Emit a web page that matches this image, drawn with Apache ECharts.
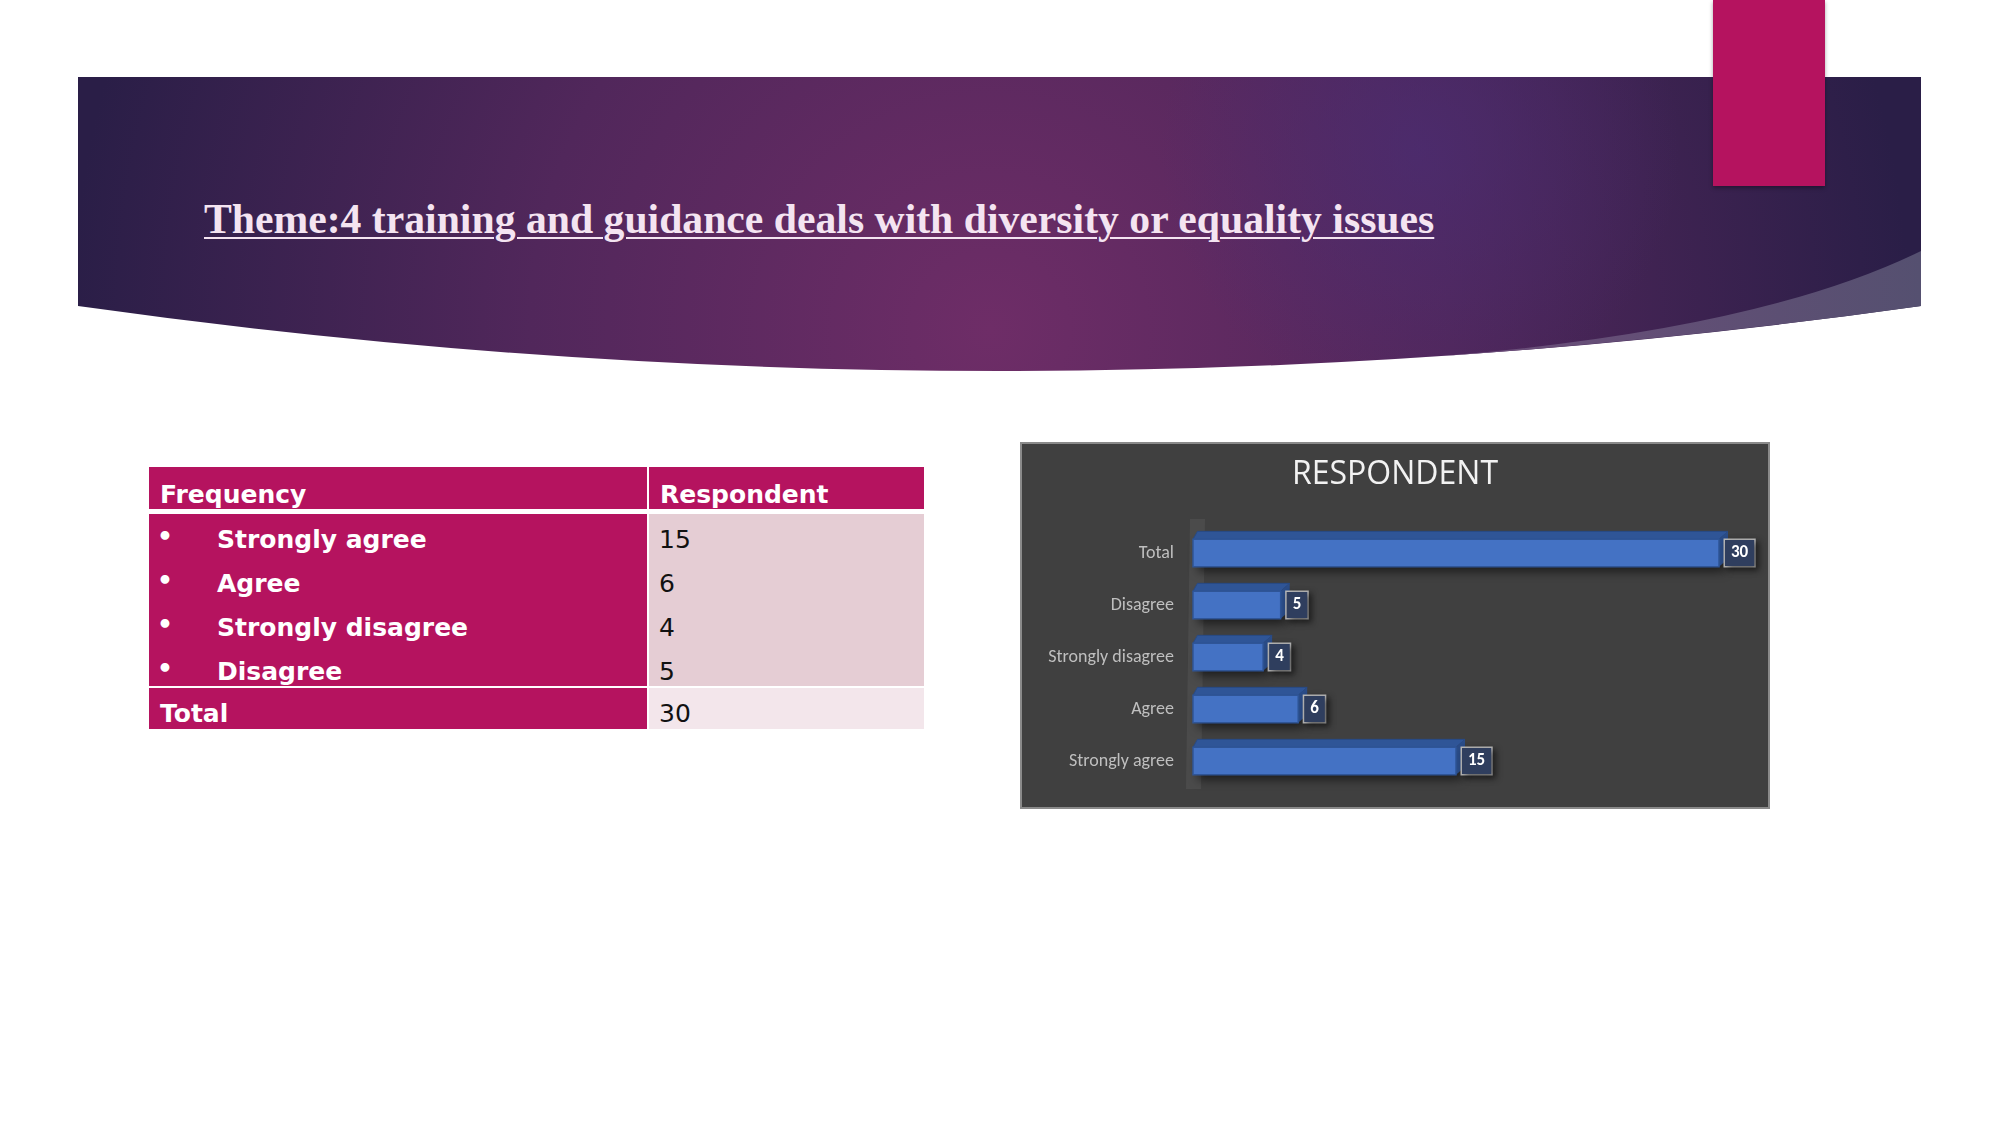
<!DOCTYPE html>
<html>
<head>
<meta charset="utf-8">
<title>Theme 4 - Respondent</title>
<script src="https://cdn.jsdelivr.net/npm/echarts@6/dist/echarts.min.js"></script>
<style>
  html, body { margin: 0; padding: 0; background: #fff; }
  .slide_ { position: relative; width: 2001px; height: 1125px; overflow: hidden; background: #fff; }
  .banner_ { position: absolute; left: 0; top: 0; }
  .pink_ { position: absolute; left: 1713px; top: 0; width: 112px; height: 186px; background: #b5135f;
           box-shadow: 0 2px 4px rgba(0,0,0,0.35); }
  .title_ { position: absolute; left: 204px; top: 196px; white-space: nowrap;
            font-family: "Liberation Serif", serif; font-weight: bold; font-size: 41.7px; line-height: 47px;
            color: #f4e4f1; text-decoration: underline; text-underline-offset: 4px; text-decoration-thickness: 2px; }
  .cell_ { position: absolute; overflow: hidden; font-family: "DejaVu Sans", sans-serif; font-size: 25px; line-height: 29px; }
  .cell_ span { position: absolute; white-space: nowrap; }
  .head_ { background: #b5135f; color: #fff; font-weight: bold; }
  .body-l { background: #b5135f; color: #fff; font-weight: bold; }
  .body-r { background: #e5cdd4; color: #111; }
  .total-r { background: #f3e6eb; color: #111; }
  #respondentChart { position: absolute; left: 1020px; top: 442px; width: 750px; height: 367px; }
</style>
</head>
<body>
<div class="slide_" id="slide">
  <svg class="banner_" width="2001" height="420">
    <defs>
      <radialGradient id="bannerFill" gradientUnits="userSpaceOnUse" cx="990" cy="330" r="920">
        <stop offset="0" stop-color="#6e2d67"/>
        <stop offset="0.5" stop-color="#51275b"/>
        <stop offset="1" stop-color="#2a1e47"/>
      </radialGradient>
      <radialGradient id="bannerSpot" gradientUnits="userSpaceOnUse" cx="1420" cy="150" r="260">
        <stop offset="0" stop-color="#4a2d73" stop-opacity="0.7"/>
        <stop offset="1" stop-color="#4a2d73" stop-opacity="0"/>
      </radialGradient>
      <linearGradient id="bannerWing" x1="0" y1="0" x2="1" y2="0">
        <stop offset="0" stop-color="#6d4d7a"/>
        <stop offset="1" stop-color="#555070"/>
      </linearGradient>
    </defs>
    <path d="M78 77 H1921 V306 Q1000 436 78 306 Z" fill="url(#bannerFill)"/>
    <path d="M78 77 H1921 V306 Q1000 436 78 306 Z" fill="url(#bannerSpot)"/>
    <path d="M1921 251 Q1760 330 1442 356 Q1681.5 339.8 1921 306 Z" fill="url(#bannerWing)"/>
  </svg>
  <div class="pink_"></div>
  <div class="title_">Theme:4 training and guidance deals with diversity or equality issues</div>
  <div id="freqTable"></div>
  <div id="respondentChart"></div>
</div>

<script>
  // table / chart data
  var frequencyLabels = ['Strongly agree', 'Agree', 'Strongly disagree', 'Disagree'];
  var frequencyValues = [15, 6, 4, 5];
  var totalLabel = 'Total';
  var totalValue = 30;
  var headerLabels = ['Frequency', 'Respondent'];

  var categories = frequencyLabels.concat([totalLabel]);
  var respondents = frequencyValues.concat([totalValue]);

  // ---- table ----
  function addCell(cls, x, y, w, h) {
    var d = document.createElement('div');
    d.className = 'cell_ ' + cls;
    d.style.left = x + 'px';
    d.style.top = y + 'px';
    d.style.width = w + 'px';
    d.style.height = h + 'px';
    document.getElementById('freqTable').appendChild(d);
    return d;
  }
  function addText(cell, text, x, y) {
    var s = document.createElement('span');
    s.textContent = text;
    s.style.left = x + 'px';
    s.style.top = y + 'px';
    cell.appendChild(s);
  }
  var colL = 149, colLW = 498, colR = 649, colRW = 275;
  var headTop = 467, headH = 42, bodyTop = 514, rowH = 43, bodyH = rowH * frequencyLabels.length;
  var totalTop = bodyTop + bodyH + 2, totalH = 41;

  var h1 = addCell('head_', colL, headTop, colLW, headH);
  addText(h1, headerLabels[0], 11, 13);
  var h2 = addCell('head_', colR, headTop, colRW, headH);
  addText(h2, headerLabels[1], 11, 13);

  var bl = addCell('body-l', colL, bodyTop, colLW, bodyH);
  var br = addCell('body-r', colR, bodyTop, colRW, bodyH);
  frequencyLabels.forEach(function (name, i) {
    addText(bl, '\u2022', 8, 8 + i * 44);
    addText(bl, name, 68, 11 + i * 44);
    addText(br, String(frequencyValues[i]), 10, 11 + i * 44);
  });

  var tl = addCell('body-l', colL, totalTop, colLW, totalH);
  addText(tl, totalLabel, 11, 11);
  var tr = addCell('total-r', colR, totalTop, colRW, totalH);
  addText(tr, String(totalValue), 10, 11);

  // ---- chart ----
  var chart = echarts.init(document.getElementById('respondentChart'));
  var depthX = 9, depthY = 8;

  chart.setOption({
    backgroundColor: '#404040',
    animation: false,
    title: {
      text: 'RESPONDENT',
      left: 'center',
      top: 12,
      textStyle: { color: '#f2f2f2', fontSize: 32, fontWeight: 'normal', fontFamily: '"Open Sans", sans-serif' }
    },
    graphic: [
      {
        type: 'rect',
        shape: { x: 1, y: 1, width: 748, height: 365 },
        style: { fill: 'none', stroke: '#8a8a8a', lineWidth: 2 },
        silent: true
      },
      {
        type: 'polygon',
        shape: { points: [[170, 77], [185, 77], [181, 347], [166, 347]] },
        style: { fill: 'rgba(255,255,255,0.06)' },
        silent: true,
        z: -1
      }
    ],
    grid: { left: 173, right: 51, top: 85, bottom: 22 },
    xAxis: { type: 'value', min: 0, max: 30, show: false },
    yAxis: {
      type: 'category',
      data: categories,
      axisLine: { show: false },
      axisTick: { show: false },
      splitLine: { show: false },
      axisLabel: { color: '#bfbfbf', fontSize: 18, margin: 19, fontFamily: 'Carlito, Lato, sans-serif' }
    },
    series: [{
      type: 'custom',
      encode: { x: 0, y: 1 },
      data: respondents.map(function (v, i) { return [v, i]; }),
      renderItem: function (params, api) {
        var start = api.coord([0, api.value(1)]);
        var end = api.coord([api.value(0), api.value(1)]);
        var h = api.size([0, 1])[1] * 0.525;
        var x0 = start[0], x1 = end[0];
        var y0 = start[1] - h / 2, y1 = start[1] + h / 2;
        return {
          type: 'group',
          children: [
            {
              type: 'rect',
              shape: { x: x0, y: y0, width: x1 - x0, height: h },
              style: { fill: '#4472c4', shadowBlur: 10, shadowColor: 'rgba(0,0,0,0.55)', shadowOffsetX: 5, shadowOffsetY: 5 }
            },
            {
              type: 'polygon',
              shape: { points: [[x0, y0], [x0 + depthX * 0.5, y0 - depthY], [x1 + depthX, y0 - depthY], [x1, y0]] },
              style: { fill: '#2f5597', stroke: '#284a85', lineWidth: 1 }
            },
            {
              type: 'polygon',
              shape: { points: [[x1, y0], [x1 + depthX, y0 - depthY], [x1 + depthX, y1 - depthY], [x1, y1]] },
              style: { fill: '#2b4d89' }
            },
            {
              type: 'rect',
              shape: { x: x0, y: y0, width: x1 - x0, height: h },
              style: { fill: '#4472c4', stroke: '#2f5597', lineWidth: 1.5 }
            },
            {
              type: 'text',
              x: x1 + 6,
              y: start[1],
              style: {
                text: String(api.value(0)),
                fill: '#ffffff',
                font: 'bold 17px Carlito, Lato, sans-serif',
                verticalAlign: 'middle',
                align: 'left',
                backgroundColor: '#2f3e5e',
                borderColor: '#b8b8b8',
                borderWidth: 1.5,
                padding: [5, 6, 4, 6],
                shadowBlur: 6,
                shadowColor: 'rgba(0,0,0,0.5)',
                shadowOffsetX: 3,
                shadowOffsetY: 3
              }
            }
          ]
        };
      }
    }]
  });
</script>
</body>
</html>
